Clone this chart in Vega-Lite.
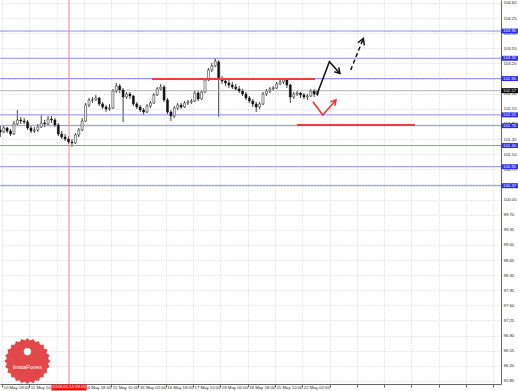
{
  "$schema": "https://vega.github.io/schema/vega-lite/v6.json",
  "width": 501,
  "height": 384,
  "autosize": {"type": "none"},
  "padding": {"left": 0, "top": 0, "right": 17, "bottom": 7},
  "background": "white",
  "config": {
    "view": {"stroke": null},
    "font": "Liberation Sans"
  },
  "datasets": {
    "candles": [
      {"i":-1,"o":101.660,"h":101.752,"l":101.498,"c":101.613},
      {"i":1,"o":101.613,"h":101.752,"l":101.590,"c":101.706},
      {"i":3,"o":101.706,"h":101.729,"l":101.590,"c":101.637},
      {"i":5,"o":101.637,"h":101.683,"l":101.521,"c":101.567},
      {"i":7,"o":101.567,"h":101.868,"l":101.544,"c":101.799},
      {"i":9,"o":101.799,"h":102.123,"l":101.775,"c":101.891},
      {"i":11,"o":101.891,"h":101.961,"l":101.799,"c":101.868},
      {"i":13,"o":101.868,"h":101.937,"l":101.799,"c":101.845},
      {"i":15,"o":101.845,"h":101.891,"l":101.660,"c":101.706},
      {"i":17,"o":101.706,"h":101.752,"l":101.590,"c":101.637},
      {"i":19,"o":101.637,"h":101.729,"l":101.590,"c":101.660},
      {"i":21,"o":101.660,"h":101.799,"l":101.613,"c":101.729},
      {"i":23,"o":101.729,"h":102.007,"l":101.706,"c":101.822},
      {"i":25,"o":101.822,"h":101.891,"l":101.729,"c":101.799},
      {"i":27,"o":101.799,"h":101.984,"l":101.775,"c":101.914},
      {"i":29,"o":101.914,"h":101.984,"l":101.822,"c":101.891},
      {"i":31,"o":101.891,"h":101.937,"l":101.729,"c":101.775},
      {"i":33,"o":101.775,"h":101.822,"l":101.521,"c":101.567},
      {"i":35,"o":101.567,"h":101.637,"l":101.451,"c":101.498},
      {"i":37,"o":101.498,"h":101.567,"l":101.405,"c":101.451},
      {"i":39,"o":101.451,"h":101.521,"l":101.336,"c":101.382},
      {"i":41,"o":101.382,"h":101.451,"l":101.266,"c":101.359},
      {"i":43,"o":101.359,"h":101.590,"l":101.336,"c":101.544},
      {"i":45,"o":101.544,"h":101.706,"l":101.498,"c":101.660},
      {"i":47,"o":101.660,"h":101.937,"l":101.637,"c":101.868},
      {"i":49,"o":101.868,"h":102.285,"l":101.845,"c":102.238},
      {"i":51,"o":102.238,"h":102.400,"l":102.192,"c":102.354},
      {"i":53,"o":102.354,"h":102.424,"l":102.285,"c":102.354},
      {"i":55,"o":102.354,"h":102.470,"l":102.331,"c":102.400},
      {"i":57,"o":102.400,"h":102.424,"l":102.215,"c":102.262},
      {"i":59,"o":102.262,"h":102.308,"l":102.146,"c":102.192},
      {"i":61,"o":102.192,"h":102.238,"l":102.076,"c":102.146},
      {"i":63,"o":102.146,"h":102.262,"l":102.100,"c":102.169},
      {"i":65,"o":102.169,"h":102.609,"l":102.146,"c":102.563},
      {"i":67,"o":102.563,"h":102.748,"l":102.516,"c":102.678},
      {"i":69,"o":102.678,"h":102.725,"l":102.516,"c":102.586},
      {"i":71,"o":102.586,"h":102.632,"l":101.845,"c":102.424},
      {"i":73,"o":102.424,"h":102.539,"l":102.377,"c":102.493},
      {"i":75,"o":102.493,"h":102.539,"l":102.377,"c":102.447},
      {"i":77,"o":102.447,"h":102.470,"l":102.215,"c":102.262},
      {"i":79,"o":102.262,"h":102.308,"l":102.146,"c":102.192},
      {"i":81,"o":102.192,"h":102.238,"l":102.076,"c":102.123},
      {"i":83,"o":102.123,"h":102.169,"l":102.007,"c":102.076},
      {"i":85,"o":102.076,"h":102.262,"l":102.053,"c":102.215},
      {"i":87,"o":102.215,"h":102.331,"l":102.169,"c":102.285},
      {"i":89,"o":102.285,"h":102.516,"l":102.262,"c":102.470},
      {"i":91,"o":102.470,"h":102.655,"l":102.447,"c":102.609},
      {"i":93,"o":102.609,"h":102.725,"l":102.563,"c":102.655},
      {"i":95,"o":102.655,"h":102.701,"l":102.308,"c":102.354},
      {"i":97,"o":102.354,"h":102.400,"l":102.030,"c":102.076},
      {"i":99,"o":102.076,"h":102.123,"l":101.868,"c":101.984},
      {"i":101,"o":101.984,"h":102.215,"l":101.937,"c":102.169},
      {"i":103,"o":102.169,"h":102.285,"l":102.123,"c":102.238},
      {"i":105,"o":102.238,"h":102.285,"l":102.146,"c":102.192},
      {"i":107,"o":102.192,"h":102.331,"l":102.169,"c":102.285},
      {"i":109,"o":102.285,"h":102.354,"l":102.238,"c":102.308},
      {"i":111,"o":102.308,"h":102.377,"l":102.262,"c":102.331},
      {"i":113,"o":102.331,"h":102.586,"l":102.308,"c":102.516},
      {"i":115,"o":102.516,"h":102.563,"l":102.331,"c":102.377},
      {"i":117,"o":102.377,"h":102.586,"l":102.354,"c":102.539},
      {"i":119,"o":102.539,"h":102.863,"l":102.516,"c":102.817},
      {"i":121,"o":102.817,"h":103.095,"l":102.794,"c":103.049},
      {"i":123,"o":103.049,"h":103.211,"l":103.002,"c":103.141},
      {"i":125,"o":103.141,"h":103.326,"l":103.118,"c":103.257},
      {"i":127,"o":103.234,"h":103.280,"l":101.961,"c":102.840},
      {"i":129,"o":102.840,"h":102.910,"l":102.725,"c":102.794},
      {"i":131,"o":102.794,"h":102.863,"l":102.678,"c":102.748},
      {"i":133,"o":102.748,"h":102.817,"l":102.632,"c":102.701},
      {"i":135,"o":102.701,"h":102.771,"l":102.609,"c":102.655},
      {"i":137,"o":102.655,"h":102.725,"l":102.563,"c":102.609},
      {"i":139,"o":102.609,"h":102.678,"l":102.516,"c":102.563},
      {"i":141,"o":102.563,"h":102.609,"l":102.447,"c":102.493},
      {"i":143,"o":102.493,"h":102.539,"l":102.354,"c":102.400},
      {"i":145,"o":102.400,"h":102.447,"l":102.285,"c":102.331},
      {"i":147,"o":102.331,"h":102.377,"l":102.192,"c":102.262},
      {"i":149,"o":102.262,"h":102.308,"l":102.076,"c":102.192},
      {"i":151,"o":102.192,"h":102.308,"l":102.146,"c":102.262},
      {"i":153,"o":102.262,"h":102.539,"l":102.238,"c":102.493},
      {"i":155,"o":102.493,"h":102.609,"l":102.447,"c":102.563},
      {"i":157,"o":102.563,"h":102.655,"l":102.516,"c":102.609},
      {"i":159,"o":102.609,"h":102.678,"l":102.563,"c":102.632},
      {"i":161,"o":102.632,"h":102.771,"l":102.609,"c":102.725},
      {"i":163,"o":102.725,"h":102.863,"l":102.701,"c":102.771},
      {"i":165,"o":102.771,"h":102.863,"l":102.725,"c":102.817},
      {"i":167,"o":102.817,"h":102.840,"l":102.632,"c":102.701},
      {"i":169,"o":102.701,"h":102.725,"l":102.285,"c":102.424},
      {"i":171,"o":102.424,"h":102.539,"l":102.377,"c":102.493},
      {"i":173,"o":102.493,"h":102.563,"l":102.447,"c":102.516},
      {"i":175,"o":102.516,"h":102.539,"l":102.400,"c":102.470},
      {"i":177,"o":102.470,"h":102.516,"l":102.377,"c":102.424},
      {"i":179,"o":102.424,"h":102.493,"l":102.354,"c":102.447},
      {"i":181,"o":102.447,"h":102.609,"l":102.424,"c":102.563},
      {"i":183,"o":102.563,"h":102.609,"l":102.424,"c":102.493},
      {"i":185,"o":102.493,"h":102.586,"l":102.447,"c":102.570}
    ],
    "levels": [
      {"v":103.95,"t":"103.95"},
      {"v":103.32,"t":"103.32"},
      {"v":102.85,"t":"102.85"},
      {"v":102.01,"t":"102.01"},
      {"v":101.76,"t":"101.76"},
      {"v":101.30,"t":"101.30"},
      {"v":100.81,"t":"100.81"},
      {"v":100.37,"t":"100.37"}
    ],
    "bid": [{"v":102.57,"t":"102.57"}],
    "marker": [{"i":39.3,"t":"2018.05.14 09:00"}],
    "segs": [
      {"i1":87.9,"i2":183.5,"v":102.84},
      {"i1":172.9,"i2":242.1,"v":101.775}
    ],
    "arrows": [
      {"g":"bb","k":1,"i":184.5,"v":102.47},
      {"g":"bb","k":2,"i":191.9,"v":103.24},
      {"g":"bb","k":3,"i":198.1,"v":102.97},
      {"g":"bh","k":1,"i":194.8,"v":103.01},
      {"g":"bh","k":2,"i":198.1,"v":102.97},
      {"g":"bh","k":3,"i":197.4,"v":103.11},
      {"g":"db","k":1,"i":204.4,"v":103.05},
      {"g":"db","k":2,"i":211.8,"v":103.78},
      {"g":"dh","k":1,"i":208.6,"v":103.68},
      {"g":"dh","k":2,"i":211.8,"v":103.78},
      {"g":"dh","k":3,"i":212.4,"v":103.62},
      {"g":"rb","k":1,"i":182.3,"v":102.315},
      {"g":"rb","k":2,"i":188.0,"v":102.007},
      {"g":"rb","k":3,"i":195.8,"v":102.355},
      {"g":"rh","k":1,"i":192.4,"v":102.31},
      {"g":"rh","k":2,"i":195.8,"v":102.355},
      {"g":"rh","k":3,"i":195.1,"v":102.22}
    ],
    "logo": [{"i":14.9,"v":96.31,"iv":96.53,"tv":96.17,"t":"InstaForex"}]
  },
  "layer": [
    {
      "data": {"name": "candles"},
      "mark": {"type": "rule", "color": "#111111", "strokeWidth": 0.8},
      "encoding": {
        "x": {
          "field": "i", "type": "quantitative", "title": null,
          "scale": {"domain": [-1.172, 292.5], "nice": false, "zero": false, "padding": 0},
          "axis": {
            "values": [0,16,32,48,64,80,96,112,128,144,160,176,192,208,224,240,256,272,288],
            "tickCount": 100,
            "labelExpr": "datum.value == 0 ? '10 May 18:00' : datum.value == 16 ? '11 May 10:00' : datum.value == 48 ? '14 May 18:00' : datum.value == 64 ? '15 May 10:00' : datum.value == 80 ? '16 May 02:00' : datum.value == 96 ? '16 May 18:00' : datum.value == 112 ? '17 May 10:00' : datum.value == 128 ? '18 May 02:00' : datum.value == 144 ? '18 May 18:00' : datum.value == 160 ? '21 May 10:00' : datum.value == 176 ? '22 May 02:00' : ''",
            "tickSize": 3,
            "labelPadding": 0,
            "labelBaseline": "middle",
            "labelAlign": "left",
            "labelOffset": 1,
            "labelFont": "Liberation Sans",
            "labelFontSize": 4.3,
            "labelColor": "#222222",
            "labelFlush": false,
            "labelOverlap": false,
            "domainColor": "#666666",
            "tickColor": "#666666",
            "grid": true,
            "gridColor": "#c4c4c4",
            "gridDash": [1, 2],
            "gridWidth": 0.8
          }
        },
        "y": {
          "field": "l", "type": "quantitative", "title": null,
          "scale": {"domain": [95.78, 104.669], "nice": false, "zero": false},
          "axis": {
            "orient": "right",
            "values": [95.85,96.2,96.55,96.9,97.25,97.6,97.95,98.3,98.65,99.0,99.35,99.7,100.05,100.4,100.75,101.1,101.45,101.8,102.15,102.5,102.85,103.2,103.55,103.9,104.25,104.6],
            "tickCount": 100,
            "format": ".2f",
            "tickSize": 0,
            "labelPadding": 2,
            "labelBaseline": "middle",
            "labelFont": "Liberation Sans",
            "labelFontSize": 4.3,
            "labelColor": "#222222",
            "labelFlush": false,
            "labelOverlap": false,
            "domainColor": "#666666",
            "grid": true,
            "gridColor": "#c4c4c4",
            "gridDash": [1, 2],
            "gridWidth": 0.8
          }
        },
        "y2": {"field": "h"}
      }
    },
    {
      "data": {"name": "bid"},
      "mark": {"type": "rule", "color": "#b4b4b4", "strokeWidth": 1},
      "encoding": {
        "y": {"field": "v", "type": "quantitative", "title": null, "scale": {"domain": [95.78, 104.669], "nice": false, "zero": false}}
      }
    },
    {
      "data": {"name": "levels"},
      "mark": {"type": "rule", "color": "#8c8cff", "strokeWidth": 1},
      "encoding": {
        "y": {"field": "v", "type": "quantitative", "title": null, "scale": {"domain": [95.78, 104.669], "nice": false, "zero": false}}
      }
    },
    {
      "data": {"name": "marker"},
      "mark": {"type": "rule", "color": "#f08a8a", "strokeWidth": 1},
      "encoding": {
        "x": {"field": "i", "type": "quantitative", "title": null, "scale": {"domain": [-1.172, 292.5], "nice": false, "zero": false, "padding": 0}}
      }
    },
    {
      "data": {"name": "candles"},
      "mark": {"type": "bar", "size": 2, "stroke": "#111111", "strokeWidth": 0.5},
      "encoding": {
        "x": {"field": "i", "type": "quantitative", "title": null, "scale": {"domain": [-1.172, 292.5], "nice": false, "zero": false, "padding": 0}},
        "y": {"field": "o", "type": "quantitative", "title": null, "scale": {"domain": [95.78, 104.669], "nice": false, "zero": false}},
        "y2": {"field": "c"},
        "color": {"condition": {"test": "datum.c >= datum.o", "value": "#ffffff"}, "value": "#111111"}
      }
    },
    {
      "data": {"name": "segs"},
      "mark": {"type": "rule", "color": "#f03c3c", "strokeWidth": 2},
      "encoding": {
        "x": {"field": "i1", "type": "quantitative", "title": null, "scale": {"domain": [-1.172, 292.5], "nice": false, "zero": false, "padding": 0}},
        "x2": {"field": "i2"},
        "y": {"field": "v", "type": "quantitative", "title": null, "scale": {"domain": [95.78, 104.669], "nice": false, "zero": false}}
      }
    },
    {
      "data": {"name": "arrows"},
      "transform": [{"filter": "datum.g == 'bb' || datum.g == 'bh' || datum.g == 'dh'"}],
      "mark": {"type": "line", "color": "#111111", "strokeWidth": 1.5, "strokeJoin": "miter"},
      "encoding": {
        "x": {"field": "i", "type": "quantitative", "title": null, "scale": {"domain": [-1.172, 292.5], "nice": false, "zero": false, "padding": 0}},
        "y": {"field": "v", "type": "quantitative", "title": null, "scale": {"domain": [95.78, 104.669], "nice": false, "zero": false}},
        "detail": {"field": "g"},
        "order": {"field": "k"}
      }
    },
    {
      "data": {"name": "arrows"},
      "transform": [{"filter": "datum.g == 'db'"}],
      "mark": {"type": "line", "color": "#111111", "strokeWidth": 1.5, "strokeDash": [4, 3]},
      "encoding": {
        "x": {"field": "i", "type": "quantitative", "title": null, "scale": {"domain": [-1.172, 292.5], "nice": false, "zero": false, "padding": 0}},
        "y": {"field": "v", "type": "quantitative", "title": null, "scale": {"domain": [95.78, 104.669], "nice": false, "zero": false}},
        "order": {"field": "k"}
      }
    },
    {
      "data": {"name": "arrows"},
      "transform": [{"filter": "datum.g == 'rb' || datum.g == 'rh'"}],
      "mark": {"type": "line", "color": "#f03030", "strokeWidth": 1.5},
      "encoding": {
        "x": {"field": "i", "type": "quantitative", "title": null, "scale": {"domain": [-1.172, 292.5], "nice": false, "zero": false, "padding": 0}},
        "y": {"field": "v", "type": "quantitative", "title": null, "scale": {"domain": [95.78, 104.669], "nice": false, "zero": false}},
        "detail": {"field": "g"},
        "order": {"field": "k"}
      }
    },
    {
      "data": {"name": "levels"},
      "mark": {"type": "point", "shape": "M-1,-0.3L1,-0.3L1,0.3L-1,0.3Z", "size": 272, "filled": true, "fill": "#2a2aee", "opacity": 1, "strokeWidth": 0},
      "encoding": {
        "x": {"datum": 297.6, "type": "quantitative", "title": null, "scale": {"domain": [-1.172, 292.5], "nice": false, "zero": false, "padding": 0}},
        "y": {"field": "v", "type": "quantitative", "title": null, "scale": {"domain": [95.78, 104.669], "nice": false, "zero": false}}
      }
    },
    {
      "data": {"name": "levels"},
      "mark": {"type": "text", "align": "left", "baseline": "middle", "fontSize": 4.3, "font": "Liberation Sans", "color": "#ffffff"},
      "encoding": {
        "x": {"datum": 293.7, "type": "quantitative", "title": null, "scale": {"domain": [-1.172, 292.5], "nice": false, "zero": false, "padding": 0}},
        "y": {"field": "v", "type": "quantitative", "title": null, "scale": {"domain": [95.78, 104.669], "nice": false, "zero": false}},
        "text": {"field": "t"}
      }
    },
    {
      "data": {"name": "bid"},
      "mark": {"type": "point", "shape": "M-1,-0.3L1,-0.3L1,0.3L-1,0.3Z", "size": 272, "filled": true, "fill": "#000000", "opacity": 1, "strokeWidth": 0},
      "encoding": {
        "x": {"datum": 297.6, "type": "quantitative", "title": null, "scale": {"domain": [-1.172, 292.5], "nice": false, "zero": false, "padding": 0}},
        "y": {"field": "v", "type": "quantitative", "title": null, "scale": {"domain": [95.78, 104.669], "nice": false, "zero": false}}
      }
    },
    {
      "data": {"name": "bid"},
      "mark": {"type": "text", "align": "left", "baseline": "middle", "fontSize": 4.3, "font": "Liberation Sans", "color": "#ffffff"},
      "encoding": {
        "x": {"datum": 293.7, "type": "quantitative", "title": null, "scale": {"domain": [-1.172, 292.5], "nice": false, "zero": false, "padding": 0}},
        "y": {"field": "v", "type": "quantitative", "title": null, "scale": {"domain": [95.78, 104.669], "nice": false, "zero": false}},
        "text": {"field": "t"}
      }
    },
    {
      "data": {"name": "marker"},
      "mark": {"type": "point", "shape": "M-1,-0.17L1,-0.17L1,0.17L-1,0.17Z", "size": 1225, "filled": true, "fill": "#ff1010", "opacity": 1, "strokeWidth": 0},
      "encoding": {
        "x": {"field": "i", "type": "quantitative", "title": null, "scale": {"domain": [-1.172, 292.5], "nice": false, "zero": false, "padding": 0}},
        "y": {"datum": 95.70, "type": "quantitative", "title": null, "scale": {"domain": [95.78, 104.669], "nice": false, "zero": false}}
      }
    },
    {
      "data": {"name": "marker"},
      "mark": {"type": "text", "align": "center", "baseline": "middle", "fontSize": 4.3, "font": "Liberation Sans", "color": "#ffffff"},
      "encoding": {
        "x": {"field": "i", "type": "quantitative", "title": null, "scale": {"domain": [-1.172, 292.5], "nice": false, "zero": false, "padding": 0}},
        "y": {"datum": 95.70, "type": "quantitative", "title": null, "scale": {"domain": [95.78, 104.669], "nice": false, "zero": false}},
        "text": {"field": "t"}
      }
    },
    {
      "data": {"name": "logo"},
      "mark": {"type": "point", "shape": "M1,0L.892,.117L.966,.259L.832,.344L.866,.5L.714,.548L.707,.707L.548,.714L.5,.866L.344,.832L.259,.966L.117,.892L0,1L-.117,.892L-.259,.966L-.344,.832L-.5,.866L-.548,.714L-.707,.707L-.714,.548L-.866,.5L-.832,.344L-.966,.259L-.892,.117L-1,0L-.892,-.117L-.966,-.259L-.832,-.344L-.866,-.5L-.714,-.548L-.707,-.707L-.548,-.714L-.5,-.866L-.344,-.832L-.259,-.966L-.117,-.892L0,-1L.117,-.892L.259,-.966L.344,-.832L.5,-.866L.548,-.714L.707,-.707L.714,-.548L.866,-.5L.832,-.344L.966,-.259L.892,-.117Z", "size": 2116, "filled": true, "fill": "#e03a3c", "opacity": 0.93, "strokeWidth": 0},
      "encoding": {
        "x": {"field": "i", "type": "quantitative", "title": null, "scale": {"domain": [-1.172, 292.5], "nice": false, "zero": false, "padding": 0}},
        "y": {"field": "v", "type": "quantitative", "title": null, "scale": {"domain": [95.78, 104.669], "nice": false, "zero": false}}
      }
    },
    {
      "data": {"name": "logo"},
      "mark": {"type": "point", "shape": "circle", "size": 55, "filled": true, "fill": "#ffffff", "opacity": 1, "strokeWidth": 0},
      "encoding": {
        "x": {"field": "i", "type": "quantitative", "title": null, "scale": {"domain": [-1.172, 292.5], "nice": false, "zero": false, "padding": 0}},
        "y": {"field": "iv", "type": "quantitative", "title": null, "scale": {"domain": [95.78, 104.669], "nice": false, "zero": false}}
      }
    },
    {
      "data": {"name": "logo"},
      "mark": {"type": "text", "align": "center", "baseline": "middle", "fontSize": 6.2, "font": "Liberation Sans", "color": "#ffffff"},
      "encoding": {
        "x": {"field": "i", "type": "quantitative", "title": null, "scale": {"domain": [-1.172, 292.5], "nice": false, "zero": false, "padding": 0}},
        "y": {"field": "tv", "type": "quantitative", "title": null, "scale": {"domain": [95.78, 104.669], "nice": false, "zero": false}},
        "text": {"field": "t"}
      }
    }
  ]
}
